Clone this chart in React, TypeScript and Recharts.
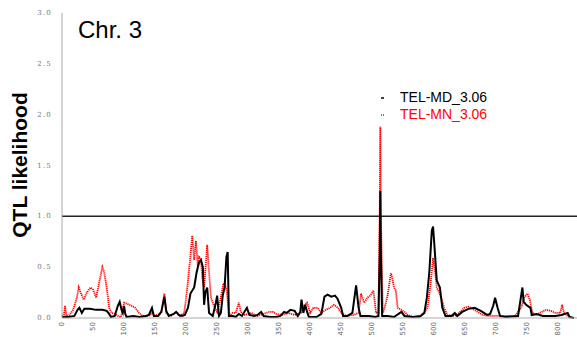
import React from "react";
import { LineChart, Line, XAxis, YAxis, ReferenceLine } from "recharts";

const mdPoints: [number, number][] = [
  [0, 0.01], [10, 0.01], [20, 0.02], [25, 0.08], [28, 0.1], [32, 0.05], [36, 0.09], [45, 0.09], [55, 0.08], [65, 0.08],
  [72, 0.07], [76, 0.04], [79, 0.01], [85, 0.02], [90, 0.12], [93, 0.16], [96, 0.08], [98, 0.05], [100, 0.12], [102, 0.04],
  [104, 0.01], [115, 0.02], [125, 0.01], [135, 0.02], [140, 0.03], [145, 0.1], [148, 0.02], [155, 0.02], [160, 0.06], [165, 0.21],
  [168, 0.07], [172, 0.02], [180, 0.04], [184, 0.06], [188, 0.03], [193, 0.02], [198, 0.03], [203, 0.1], [207, 0.24], [213, 0.3],
  [217, 0.45], [221, 0.55], [224, 0.57], [227, 0.5], [229, 0.13], [231, 0.25], [234, 0.3], [237, 0.05], [243, 0.02], [248, 0.15],
  [250, 0.22], [253, 0.02], [256, 0.05], [259, 0.22], [262, 0.3], [265, 0.6], [267, 0.65], [269, 0.02], [275, 0.02], [280, 0.01],
  [285, 0.04], [290, 0.02], [298, 0.1], [302, 0.03], [310, 0.02], [315, 0.03], [321, 0.06], [325, 0.02], [335, 0.01], [345, 0.01],
  [352, 0.02], [358, 0.06], [362, 0.05], [368, 0.08], [375, 0.07], [380, 0.02], [384, 0.06], [386, 0.18], [389, 0.05], [392, 0.13],
  [395, 0.06], [398, 0.01], [410, 0.01], [418, 0.04], [423, 0.21], [428, 0.23], [434, 0.21], [440, 0.22], [444, 0.19], [450, 0.1],
  [453, 0.02], [460, 0.02], [468, 0.05], [474, 0.32], [478, 0.1], [481, 0.02], [495, 0.02], [505, 0.01], [510, 0.02], [512, 0.6],
  [513, 1.25], [514, 0.6], [516, 0.02], [525, 0.02], [535, 0.01], [547, 0.06], [552, 0.02], [565, 0.01], [578, 0.02], [584, 0.05],
  [588, 0.2], [592, 0.45], [596, 0.86], [598, 0.9], [600, 0.73], [604, 0.37], [609, 0.3], [613, 0.1], [618, 0.02], [628, 0.02],
  [633, 0.05], [637, 0.02], [645, 0.06], [655, 0.09], [665, 0.1], [675, 0.07], [685, 0.03], [690, 0.04], [695, 0.12], [698, 0.2],
  [702, 0.1], [706, 0.02], [715, 0.01], [735, 0.02], [742, 0.3], [744, 0.16], [748, 0.13], [755, 0.1], [757, 0.03], [765, 0.04],
  [775, 0.02], [795, 0.02], [805, 0.03], [815, 0.05], [818, 0.01], [825, 0.0],
];

const mnPoints: [number, number][] = [
  [0, 0.02], [3, 0.03], [5, 0.12], [7, 0.02], [12, 0.03], [18, 0.08], [24, 0.2], [27, 0.3], [30, 0.25], [35, 0.18],
  [40, 0.25], [46, 0.3], [50, 0.28], [55, 0.2], [60, 0.35], [65, 0.5], [68, 0.45], [72, 0.3], [76, 0.1], [80, 0.05],
  [85, 0.04], [90, 0.02], [95, 0.01], [100, 0.15], [105, 0.14], [112, 0.12], [118, 0.1], [124, 0.05], [130, 0.02], [140, 0.02],
  [145, 0.05], [150, 0.02], [160, 0.05], [165, 0.24], [168, 0.05], [175, 0.02], [185, 0.06], [190, 0.02], [197, 0.05], [202, 0.3],
  [205, 0.49], [210, 0.81], [213, 0.57], [216, 0.76], [219, 0.5], [221, 0.6], [224, 0.58], [226, 0.4], [229, 0.3], [234, 0.72],
  [236, 0.55], [240, 0.2], [245, 0.12], [250, 0.06], [256, 0.2], [260, 0.34], [263, 0.33], [266, 0.25], [269, 0.02], [275, 0.05],
  [280, 0.05], [285, 0.15], [288, 0.06], [295, 0.03], [305, 0.05], [315, 0.02], [325, 0.04], [334, 0.06], [340, 0.06], [345, 0.04],
  [355, 0.03], [365, 0.05], [375, 0.03], [385, 0.05], [390, 0.12], [395, 0.15], [400, 0.05], [405, 0.1], [412, 0.1], [418, 0.05],
  [425, 0.08], [432, 0.1], [438, 0.13], [445, 0.1], [450, 0.05], [458, 0.02], [470, 0.03], [478, 0.05], [482, 0.24], [487, 0.15],
  [492, 0.2], [497, 0.22], [502, 0.27], [506, 0.05], [510, 0.05], [512, 1.0], [513, 1.88], [514, 1.0], [517, 0.05], [520, 0.1],
  [525, 0.23], [530, 0.44], [532, 0.4], [535, 0.3], [538, 0.27], [541, 0.1], [547, 0.08], [552, 0.06], [557, 0.03], [565, 0.01],
  [575, 0.01], [583, 0.05], [589, 0.1], [594, 0.34], [598, 0.59], [601, 0.47], [604, 0.3], [608, 0.25], [611, 0.2], [616, 0.1],
  [621, 0.03], [632, 0.02], [640, 0.05], [648, 0.1], [655, 0.11], [662, 0.09], [670, 0.06], [678, 0.03], [690, 0.02], [710, 0.02],
  [730, 0.02], [740, 0.1], [745, 0.2], [750, 0.24], [754, 0.18], [758, 0.05], [764, 0.03], [770, 0.05], [780, 0.08], [788, 0.07],
  [795, 0.05], [803, 0.05], [806, 0.13], [809, 0.05], [815, 0.02], [820, 0.01],
];

const xTicks = [0, 50, 100, 150, 200, 250, 300, 350, 400, 450, 500, 550, 600, 650, 700, 750, 800];
const yTicks = [0, 0.5, 1.0, 1.5, 2.0, 2.5, 3.0];
const seriesNames = ["TEL-MD_3.06", "TEL-MN_3.06"];
const title = "Chr. 3";
const yLabel = "QTL likelihood";
const threshold = 1.0;

const mdData = mdPoints.map(([pos, v]) => ({ pos, v }));
const mnData = mnPoints.map(([pos, v]) => ({ pos, v }));

const XTick = (props: any) => {
  const { x, y, payload } = props;
  return (
    <text
      x={x}
      y={y}
      transform={`rotate(-90 ${x} ${y})`}
      textAnchor="end"
      dominantBaseline="central"
      fontSize={7}
      fill="#666"
      fontFamily="DejaVu Sans"
    >
      {payload.value}
    </text>
  );
};

const YTick = (props: any) => {
  const { x, y, payload } = props;
  return (
    <text
      x={x}
      y={y}
      textAnchor="end"
      dominantBaseline="central"
      fontSize={7}
      letterSpacing={1.2}
      fill="#777"
      fontFamily="DejaVu Serif"
    >
      {Number(payload.value).toFixed(1)}
    </text>
  );
};

export default function App() {
  return (
    <div style={{ position: "absolute", left: 0, top: 0, width: 577, height: 337, background: "#fff" }}>
      <LineChart width={577} height={337} margin={{ top: 13, right: 0, bottom: 0, left: 0 }}>
        <XAxis
          dataKey="pos"
          type="number"
          domain={[0, 830]}
          ticks={xTicks}
          allowDuplicatedCategory={false}
          height={19}
          tickSize={0}
          tickMargin={4}
          tick={<XTick />}
          stroke="#aaa"
          axisLine={{ stroke: "#aaa", strokeWidth: 1 }}
          tickLine={false}
          interval={0}
        />
        <YAxis
          type="number"
          domain={[0, 3]}
          ticks={yTicks}
          width={62}
          tickSize={0}
          tickMargin={10}
          tick={<YTick />}
          axisLine={{ stroke: "#aaa", strokeWidth: 1 }}
          tickLine={false}
          interval={0}
        />
        <ReferenceLine y={threshold} stroke="#222" strokeWidth={1.5} ifOverflow="extendDomain" />
        <Line
          data={mnData}
          dataKey="v"
          name={seriesNames[1]}
          type="linear"
          stroke="#ff0000"
          strokeWidth={1.8}
          strokeDasharray="1.2 0.8"
          dot={false}
          isAnimationActive={false}
        />
        <Line
          data={mdData}
          dataKey="v"
          name={seriesNames[0]}
          type="linear"
          stroke="#000"
          strokeWidth={2}
          dot={false}
          isAnimationActive={false}
        />
      </LineChart>
      <div
        style={{
          position: "absolute",
          left: 78,
          top: 18,
          fontFamily: "Liberation Sans, Arial, sans-serif",
          fontSize: 24,
          lineHeight: "24px",
          color: "#000",
          whiteSpace: "nowrap",
        }}
      >
        {title}
      </div>
      <div
        style={{
          position: "absolute",
          left: 20 - 90,
          top: 165 - 12,
          width: 180,
          height: 24,
          transform: "rotate(-90deg)",
          transformOrigin: "90px 12px",
          textAlign: "center",
          fontFamily: "Liberation Sans, Arial, sans-serif",
          fontWeight: "bold",
          fontSize: 21,
          lineHeight: "24px",
          color: "#000",
          whiteSpace: "nowrap",
        }}
      >
        {yLabel}
      </div>
      <div
        style={{
          position: "absolute",
          left: 378,
          top: 88,
          fontFamily: "Liberation Sans, Arial, sans-serif",
          fontSize: 14,
          lineHeight: "14px",
          whiteSpace: "nowrap",
        }}
      >
        <div style={{ display: "flex", alignItems: "center", height: 17, color: "#000" }}>
          <svg width={22} height={14}>
            <line x1={3} y1={8} x2={6} y2={8} stroke="#000" strokeWidth={1.5} />
          </svg>
          <span>{seriesNames[0]}</span>
        </div>
        <div style={{ display: "flex", alignItems: "center", height: 17, color: "#ff0000" }}>
          <svg width={22} height={14}>
            <line x1={3} y1={8} x2={7} y2={8} stroke="#ff0000" strokeWidth={1.5} strokeDasharray="1 1" />
          </svg>
          <span>{seriesNames[1]}</span>
        </div>
      </div>
    </div>
  );
}
